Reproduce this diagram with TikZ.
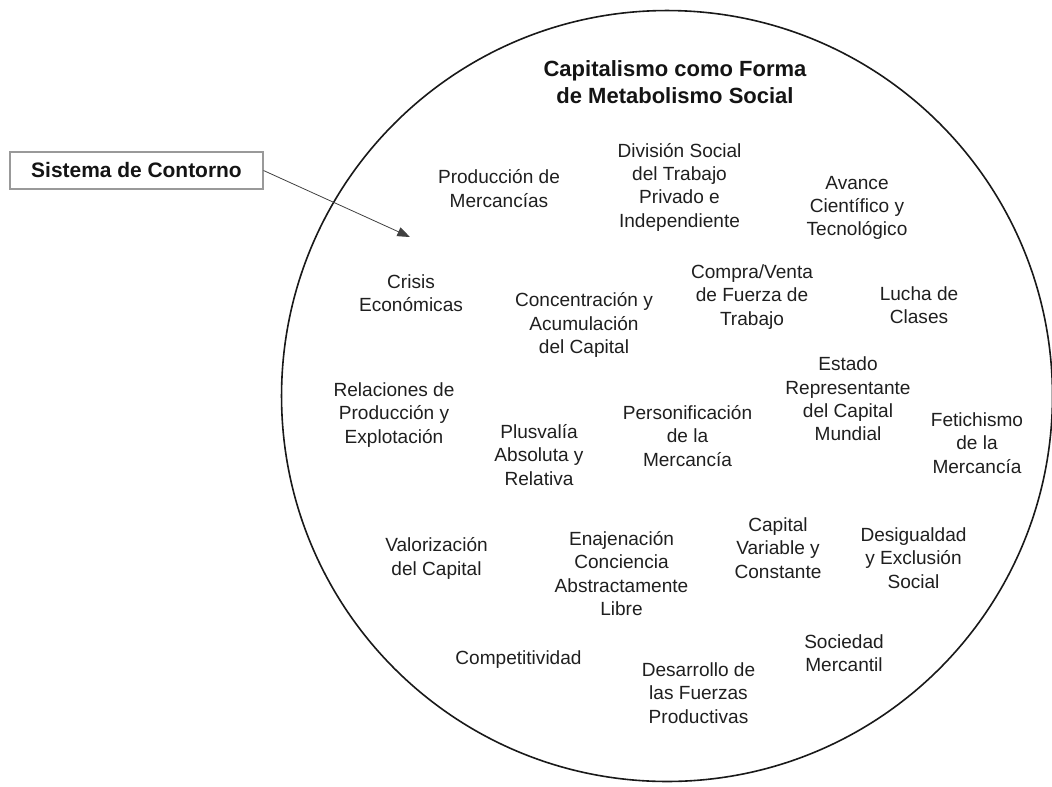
\documentclass[tikz,border=0pt]{standalone}
\usepackage{fontspec}
\setmainfont{Liberation Sans}
\usetikzlibrary{arrows.meta}
\begin{document}
\begin{tikzpicture}[x=0.75pt,y=-0.75pt,
  lbl/.style={align=center, inner sep=0pt, text=black!88,
    font=\fontsize{14.3pt}{17.5pt}\selectfont},
  ttl/.style={align=center, inner sep=0pt, text=black!92,
    font=\bfseries\fontsize{16.5pt}{20pt}\selectfont},
  tag/.style={draw=black!40, line width=0.8pt, fill=white, inner sep=0pt,
    minimum width=189.75pt, minimum height=27.75pt, text=black!92,
    font=\bfseries\fontsize{15.7pt}{19pt}\selectfont},
  ring/.style={draw=black!90, line width=1.2pt},
  pointer/.style={draw=black!75, line width=0.6pt,
    -{Triangle[length=9.5pt,width=7pt]}}]
\useasboundingbox (0,0) rectangle (1052,786);

% outer boundary of the social metabolism
\draw[ring] (667,396) circle [radius=289.1pt];

% boundary system label and its pointer
\node[tag] (contorno) at (136.5,170.5) {Sistema de Contorno};
\coordinate (tip) at (410,237);
\draw[pointer] (contorno.east) -- (tip);

% title
\node[ttl] (titulo) at (675,82) {Capitalismo como Forma\\de Metabolismo Social};

% concepts inside the circle
\node[lbl] (produccion) at (499,188.5) {Producción de\\Mercancías};
\node[lbl] (division) at (679.5,187) {División Social\\del Trabajo\\Privado e\\Independiente};
\node[lbl] (avance) at (857,208) {Avance\\Científico y\\Tecnológico};
\node[lbl] (crisis) at (411,293) {Crisis\\Económicas};
\node[lbl] (concentracion) at (584,325) {Concentración y\\Acumulación\\del Capital};
\node[lbl] (compraventa) at (752,297) {Compra/Venta\\de Fuerza de\\Trabajo};
\node[lbl] (lucha) at (919,305.5) {Lucha de\\Clases};
\node[lbl] (estado) at (848,399) {Estado\\Representante\\del Capital\\Mundial};
\node[lbl] (relaciones) at (394,415) {Relaciones de\\Producción y\\Explotación};
\node[lbl] (plusvalia) at (539,455) {Plusvalía\\Absoluta y\\Relativa};
\node[lbl] (personificacion) at (687.5,436) {Personificación\\de la\\Mercancía};
\node[lbl] (fetichismo) at (977,443) {Fetichismo\\de la\\Mercancía};
\node[lbl] (valorizacion) at (436.5,558.5) {Valorización\\del Capital};
\node[lbl] (enajenacion) at (621.5,573.5) {Enajenación\\Conciencia\\Abstractamente\\Libre};
\node[lbl] (capitalvar) at (778,548) {Capital\\Variable y\\Constante};
\node[lbl] (desigualdad) at (913.5,558) {Desigualdad\\y Exclusión\\Social};
\node[lbl] (competitividad) at (518.5,660) {Competitividad};
\node[lbl] (sociedad) at (844,653) {Sociedad\\Mercantil};
\node[lbl] (desarrollo) at (698.5,693) {Desarrollo de\\las Fuerzas\\Productivas};
\end{tikzpicture}
\end{document}
